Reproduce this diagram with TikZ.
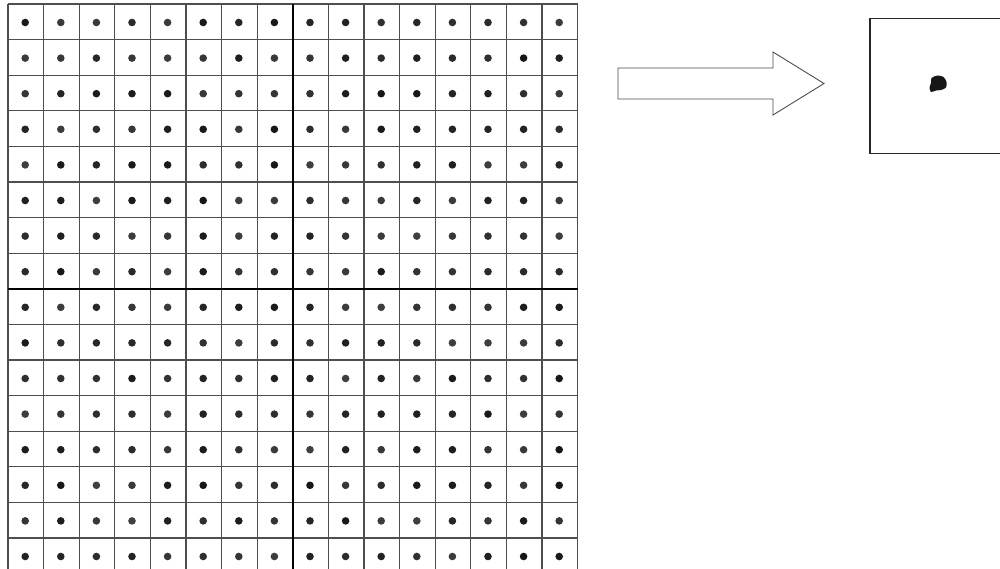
\documentclass[tikz,border=0pt]{standalone}
\definecolor{Rule}{HTML}{4E4E4E}
\definecolor{Ink}{HTML}{161616}
\definecolor{Edge}{HTML}{4A4A4A}

\begin{document}
\begin{tikzpicture}[x=0.3mm,y=-0.3mm,
    cellline/.style={draw=Rule,line width=1.05pt},
    midline/.style={draw=black,line width=2pt},
    spot/.style={fill=Ink},
    outline/.style={draw=Edge,line width=0.75pt,fill=white},
    frame/.style={draw=black!85,line width=1.4pt}
  ]
    \useasboundingbox (0,0) rectangle (1000,569);
    \begin{scope}
      \clip (0,0) rectangle (1000,569);
      \foreach \i in {0,...,16} {
        \draw[cellline] ({8+35.6*\i},4) -- ({8+35.6*\i},573.6);
        \draw[cellline] (8,{4+35.6*\i}) -- (577.6,{4+35.6*\i});
      }
      \draw[midline] (292.8,4) -- (292.8,573.6);
      \draw[midline] (8,288.8) -- (577.6,288.8);
      \pgfmathsetseed{7}
      \foreach \r in {0,...,15}
        \foreach \c in {0,...,15} {
          \pgfmathsetmacro{\shade}{82+18*rnd}
          \fill[spot,fill=Ink!\shade] ({25.2+35.6*\c},{22.5+35.6*\r}) circle (3.8);
        }
      % zoomed view of one cell
      \draw[outline] (618,68) -- (773,68) -- (773,52) -- (824,83.5) -- (773,115) -- (773,99) -- (618,99) -- cycle;
      \draw[frame] (870,18.5) rectangle (1010,153.5);
      \fill[spot] plot[smooth cycle] coordinates {(931.5,78) (937.5,75.5) (943.5,77) (946.5,82) (946,87.5) (941,90) (936,90.5) (931,92) (929.5,87.5) (931,83)};
    \end{scope}
  \end{tikzpicture}
\end{document}
